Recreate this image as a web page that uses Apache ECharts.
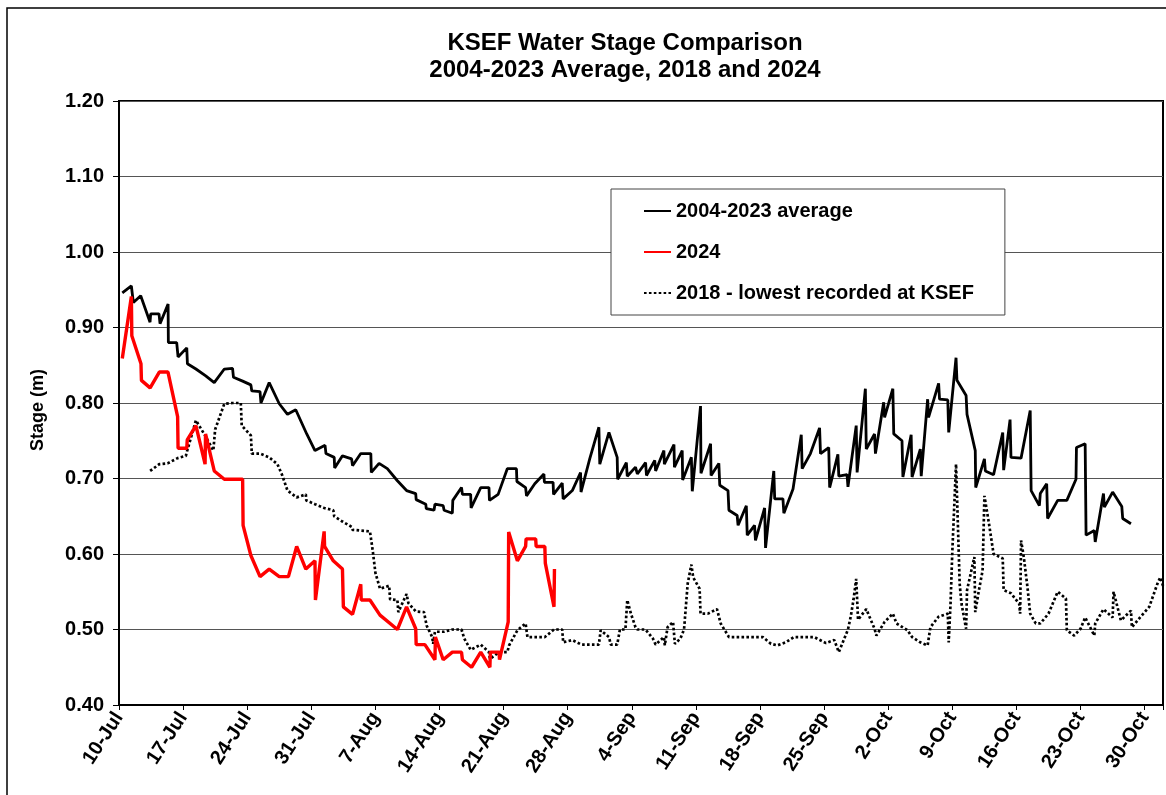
<!DOCTYPE html>
<html><head><meta charset="utf-8">
<script src="https://cdn.jsdelivr.net/npm/echarts@6/dist/echarts.min.js"></script>
<style>html,body{margin:0;padding:0;background:#fff}#c{width:1166px;height:795px}</style>
</head><body><div id="c"></div>
<script>
// x = days after 10-Jul
const xTickLabels = ['10-Jul','17-Jul','24-Jul','31-Jul','7-Aug','14-Aug','21-Aug','28-Aug','4-Sep','11-Sep','18-Sep','25-Sep','2-Oct','9-Oct','16-Oct','23-Oct','30-Oct'];
const seriesNames = ['2004-2023 average','2024','2018 - lowest recorded at KSEF'];

const avg2004_2023 = [[0.36,.946],[1.35,.955],[1.57,.933],[2.37,.942],[3.39,.907],[3.46,.918],[4.37,.918],[4.48,.905],[5.36,.931],[5.39,.880],[6.30,.880],[6.45,.861],[7.40,.873],[7.47,.852],[8.40,.845],[9.47,.836],[10.4,.827],[11.5,.845],[12.4,.846],[12.5,.834],[13.5,.829],[14.4,.824],[14.5,.816],[15.4,.815],[15.5,.800],[16.4,.827],[17.5,.799],[18.4,.785],[19.3,.791],[20.5,.759],[21.4,.737],[22.5,.744],[22.6,.733],[23.5,.728],[23.55,.714],[24.4,.730],[25.4,.726],[25.5,.717],[26.4,.733],[27.5,.733],[27.55,.708],[28.4,.720],[29.3,.713],[30.4,.697],[31.4,.684],[32.4,.680],[32.45,.672],[33.5,.666],[33.55,.660],[34.4,.658],[34.5,.666],[35.4,.664],[35.5,.658],[36.4,.654],[36.45,.671],[37.4,.688],[37.5,.679],[38.4,.679],[38.45,.661],[39.5,.688],[40.4,.688],[40.45,.671],[41.4,.679],[42.4,.713],[43.4,.713],[43.45,.696],[44.4,.688],[44.5,.677],[45.4,.693],[46.4,.706],[46.45,.695],[47.4,.695],[47.45,.679],[48.4,.694],[48.5,.673],[49.5,.684],[50.4,.708],[50.45,.682],[51.4,.726],[52.4,.768],[52.5,.719],[53.5,.761],[54.4,.728],[54.45,.699],[55.4,.721],[55.5,.703],[56.4,.715],[56.6,.706],[57.5,.721],[57.6,.704],[58.5,.724],[58.6,.710],[59.5,.737],[59.55,.719],[60.6,.745],[60.65,.715],[61.5,.737],[61.55,.698],[62.5,.728],[62.6,.683],[63.5,.796],[63.55,.707],[64.6,.746],[64.65,.704],[65.5,.720],[65.6,.691],[66.5,.684],[66.6,.658],[67.5,.651],[67.6,.638],[68.5,.664],[68.6,.625],[69.4,.638],[69.5,.618],[70.5,.661],[70.6,.608],[71.5,.710],[71.6,.673],[72.5,.673],[72.6,.654],[73.6,.686],[74.5,.758],[74.6,.713],[75.5,.733],[76.5,.767],[76.6,.733],[77.5,.741],[77.6,.688],[78.5,.732],[78.6,.703],[79.5,.705],[79.6,.689],[80.5,.770],[80.6,.708],[81.5,.819],[81.6,.739],[82.5,.759],[82.6,.733],[83.5,.801],[83.6,.781],[84.5,.819],[84.6,.759],[85.5,.750],[85.6,.702],[86.5,.758],[86.6,.702],[87.5,.739],[87.6,.703],[88.3,.805],[88.4,.781],[89.5,.826],[89.6,.805],[90.5,.804],[90.6,.761],[91.4,.860],[91.5,.830],[92.5,.810],[92.6,.785],[93.5,.737],[93.55,.688],[94.5,.726],[94.6,.710],[95.5,.705],[96.5,.761],[96.6,.711],[97.3,.778],[97.4,.728],[98.5,.727],[99.5,.790],[99.6,.684],[100.5,.664],[100.6,.680],[101.3,.693],[101.4,.647],[102.5,.671],[103.5,.671],[104.5,.699],[104.55,.741],[105.5,.746],[105.6,.625],[106.5,.631],[106.6,.616],[107.5,.680],[107.6,.662],[108.5,.682],[109.5,.663],[109.6,.647],[110.5,.640]];

const y2024 = [[0.36,.859],[1.35,.941],[1.4,.889],[2.4,.852],[2.45,.830],[3.4,.820],[4.4,.841],[5.35,.841],[6.4,.782],[6.45,.740],[7.4,.740],[7.45,.751],[8.4,.770],[9.4,.719],[9.45,.759],[10.4,.710],[11.5,.699],[13.5,.699],[13.55,.638],[14.4,.598],[15.4,.570],[16.4,.580],[17.5,.570],[18.5,.570],[19.4,.610],[20.4,.580],[21.4,.591],[21.45,.539],[22.4,.630],[22.45,.610],[23.4,.591],[24.4,.580],[24.5,.530],[25.5,.520],[26.4,.560],[26.45,.539],[27.4,.539],[28.5,.519],[30.4,.500],[31.4,.530],[32.4,.501],[32.45,.480],[33.4,.480],[34.5,.460],[34.55,.490],[35.4,.460],[36.4,.470],[37.4,.470],[37.5,.460],[38.5,.450],[39.5,.470],[40.5,.450],[40.55,.470],[41.5,.470],[41.55,.460],[42.5,.510],[42.55,.629],[43.5,.591],[44.4,.610],[44.45,.620],[45.5,.620],[45.55,.610],[46.5,.610],[46.55,.588],[47.5,.530],[47.55,.580]];

const y2018 = [[3.4,.710],[4.4,.719],[5.3,.720],[6.4,.727],[7.3,.730],[7.45,.737],[8.4,.777],[9.4,.757],[10.3,.737],[10.5,.765],[11.5,.799],[12.4,.800],[13.3,.800],[13.4,.770],[14.4,.757],[14.5,.733],[15.4,.733],[16.4,.728],[17.3,.719],[17.8,.705],[18.4,.684],[19.4,.675],[20.4,.679],[20.45,.671],[21.4,.666],[22.4,.661],[23.4,.658],[23.5,.650],[24.4,.643],[25.4,.636],[25.5,.632],[26.4,.631],[27.4,.630],[27.7,.605],[28.0,.575],[28.5,.554],[29.5,.558],[29.6,.540],[30.4,.539],[30.5,.523],[31.4,.547],[31.6,.535],[32.4,.524],[33.3,.523],[33.6,.505],[34.2,.490],[34.3,.481],[34.5,.497],[35.5,.497],[36.4,.500],[37.4,.500],[37.7,.488],[38.4,.473],[39.5,.480],[40.4,.470],[40.5,.461],[41.5,.470],[42.4,.470],[42.6,.479],[43.5,.499],[44.4,.508],[44.6,.490],[45.5,.490],[46.5,.490],[47.5,.500],[48.4,.500],[48.5,.483],[49.5,.486],[50.5,.480],[51.4,.480],[52.4,.480],[52.6,.499],[53.5,.490],[53.7,.480],[54.4,.480],[54.7,.500],[55.3,.500],[55.5,.539],[55.9,.521],[56.4,.503],[56.6,.500],[57.5,.500],[58.3,.488],[58.6,.480],[59.5,.490],[59.6,.479],[59.9,.503],[60.5,.510],[60.7,.481],[61.3,.488],[61.7,.500],[62.1,.561],[62.5,.586],[62.7,.569],[63.4,.554],[63.5,.521],[64.3,.521],[65.3,.527],[65.7,.508],[66.6,.490],[67.5,.490],[68.5,.490],[69.4,.490],[70.3,.490],[71.2,.481],[71.9,.479],[72.8,.483],[73.7,.490],[74.6,.490],[75.9,.490],[77.2,.482],[78.1,.486],[78.6,.470],[79.2,.488],[79.6,.500],[79.9,.517],[80.2,.539],[80.5,.567],[80.7,.513],[81.6,.527],[82.5,.501],[82.7,.492],[83.6,.510],[84.5,.521],[84.9,.508],[85.3,.505],[86.1,.499],[86.6,.490],[87.5,.483],[88.3,.479],[88.6,.503],[89.5,.517],[90.5,.521],[90.6,.483],[90.8,.534],[91.0,.605],[91.4,.719],[91.6,.640],[91.8,.560],[92.0,.534],[92.5,.501],[92.6,.552],[93.4,.596],[93.5,.523],[93.9,.552],[94.3,.578],[94.5,.677],[95.0,.640],[95.5,.600],[96.5,.594],[96.6,.552],[97.4,.548],[98.3,.534],[98.4,.521],[98.5,.618],[98.8,.596],[99.2,.556],[99.5,.521],[100.1,.508],[100.6,.508],[101.5,.521],[102.5,.550],[103.4,.541],[103.5,.499],[104.3,.492],[105.0,.501],[105.5,.516],[106.5,.492],[106.6,.508],[107.5,.527],[108.5,.516],[108.6,.550],[109.4,.512],[110.5,.525],[110.6,.503],[111.5,.516],[112.5,.530],[113.4,.561],[113.7,.569],[114.0,.558]];

const FONT = '"Liberation Sans", Arial, Helvetica, sans-serif';
const chart = echarts.init(document.getElementById('c'), null, {renderer: 'canvas'});
chart.setOption({
  backgroundColor: '#fff',
  animation: false,
  graphic: [
    {type: 'rect', shape: {x: 7, y: 8, width: 1200, height: 900}, style: {fill: 'none', stroke: '#000', lineWidth: 1.5}, silent: true},
    {type: 'text', x: 625, y: 43, style: {text: 'KSEF Water Stage Comparison', fontFamily: FONT, fontWeight: 'bold', fontSize: 24, fill: '#000', align: 'center', verticalAlign: 'middle'}},
    {type: 'text', x: 625, y: 70, style: {text: '2004-2023 Average, 2018 and 2024', fontFamily: FONT, fontWeight: 'bold', fontSize: 24, fill: '#000', align: 'center', verticalAlign: 'middle'}}
  ],
  legend: {
    orient: 'vertical', left: 611, top: 189,
    padding: [11, 31, 11, 32], itemGap: 19, itemWidth: 27, itemHeight: 12,
    backgroundColor: '#fff', borderColor: '#444', borderWidth: 1,
    itemStyle: {opacity: 0},
    textStyle: {fontFamily: FONT, fontWeight: 'bold', fontSize: 20, color: '#000', lineHeight: 22},
    data: seriesNames
  },
  grid: {left: 119, right: 3, top: 101, bottom: 90, show: true, borderColor: '#000', borderWidth: 2, backgroundColor: 'transparent'},
  xAxis: {
    type: 'value', min: 0, max: 114, interval: 7,
    axisLine: {show: true, lineStyle: {color: '#000', width: 2}},
    axisTick: {show: true, inside: false, length: 5, lineStyle: {color: '#000', width: 1}},
    splitLine: {show: false},
    axisLabel: {
      rotate: 57, margin: 9, fontFamily: FONT, fontWeight: 'bold', fontSize: 20, color: '#000',
      formatter: v => (v % 7 === 0 && xTickLabels[v / 7]) ? xTickLabels[v / 7] : ''
    }
  },
  yAxis: {
    type: 'value', min: 0.4, max: 1.2, interval: 0.1,
    name: 'Stage (m)', nameLocation: 'middle', nameGap: 72, nameRotate: 90,
    nameTextStyle: {fontFamily: FONT, fontWeight: 'bold', fontSize: 18, color: '#000', padding: [0, 14, 0, 0]},
    axisLine: {show: true, lineStyle: {color: '#000', width: 2}},
    axisTick: {show: true, inside: false, length: 6, lineStyle: {color: '#000', width: 1}},
    splitLine: {show: true, lineStyle: {color: '#555', width: 1}},
    axisLabel: {margin: 15, fontFamily: FONT, fontWeight: 'bold', fontSize: 20, color: '#000', formatter: v => v.toFixed(2)}
  },
  series: [
    {name: seriesNames[0], type: 'line', data: avg2004_2023, symbol: 'none', z: 3,
     lineStyle: {color: '#000', width: 2.8}, itemStyle: {color: '#000'}},
    {name: seriesNames[1], type: 'line', data: y2024, symbol: 'none', z: 5,
     lineStyle: {color: '#ff0000', width: 3.4}, itemStyle: {color: '#ff0000'}},
    {name: seriesNames[2], type: 'line', data: y2018, symbol: 'none', z: 4,
     lineStyle: {color: '#000', width: 2.7, type: [2.6, 2.3]}, itemStyle: {color: '#000'}}
  ]
});
</script>
</body></html>
